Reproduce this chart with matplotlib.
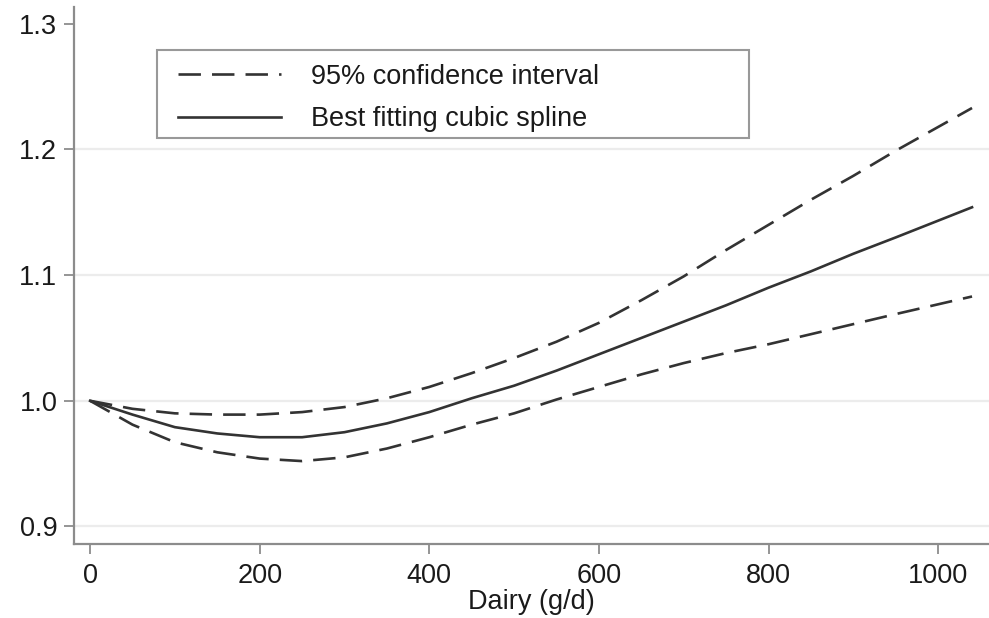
import matplotlib
matplotlib.use("Agg")
import matplotlib.pyplot as plt
from matplotlib.patches import Rectangle

# values
dairy = [0, 50, 100, 150, 200, 250, 300, 350, 400, 450, 500, 550, 600, 650,
         700, 750, 800, 850, 900, 950, 1040]
spline = [1.000, 0.989, 0.979, 0.974, 0.971, 0.971, 0.975, 0.982, 0.991, 1.002,
          1.012, 1.024, 1.037, 1.050, 1.063, 1.076, 1.090, 1.103, 1.117, 1.130, 1.154]
ci_upper = [1.000, 0.9936, 0.990, 0.989, 0.989, 0.991, 0.995, 1.002, 1.011, 1.022,
            1.034, 1.047, 1.062, 1.080, 1.099, 1.120, 1.140, 1.160, 1.179, 1.199, 1.233]
ci_lower = [1.000, 0.981, 0.967, 0.959, 0.954, 0.952, 0.955, 0.962, 0.971, 0.981,
            0.990, 1.001, 1.011, 1.021, 1.030, 1.038, 1.045, 1.053, 1.061, 1.069, 1.083]

x_ticks = [0, 200, 400, 600, 800, 1000]
y_ticks = [0.9, 1.0, 1.1, 1.2, 1.3]
grid_levels = [0.9, 1.0, 1.1, 1.2]

plt.rcParams["font.family"] = ["Liberation Sans", "DejaVu Sans"]
FS = 19.5

line_col = "#333333"
axis_col = "#8c8c8c"
text_col = "#1a1a1a"

fig = plt.figure(figsize=(9.89, 6.18), dpi=100)
ax = fig.add_axes([0.0748, 0.1197, 0.9252, 0.869])

for g in grid_levels:
    ax.axhline(g, color="#ececec", lw=1.6, zorder=0)

dash_kw = dict(color=line_col, lw=1.9, dashes=(8.5, 4.2))
ax.plot(dairy, ci_upper, label="95% confidence interval", **dash_kw)
ax.plot(dairy, ci_lower, **dash_kw)
ax.plot(dairy, spline, color=line_col, lw=1.9, label="Best fitting cubic spline")

ax.set_xlim(-19, 1060)
ax.set_ylim(0.886, 1.3134)
ax.set_xticks(x_ticks)
ax.set_yticks(y_ticks)
ax.set_yticklabels([f"{v:.1f}" for v in y_ticks])
ax.tick_params(axis="both", colors=axis_col, labelcolor=text_col,
               labelsize=FS, length=7, width=1.3)
ax.tick_params(axis="x", pad=7)
ax.tick_params(axis="y", pad=5)
ax.set_xlabel("Dairy (g/d)", fontsize=FS, color=text_col, labelpad=0)

for side in ("top", "right"):
    ax.spines[side].set_visible(False)
for side in ("left", "bottom"):
    ax.spines[side].set_color(axis_col)
    ax.spines[side].set_linewidth(1.6)

# legend box drawn separately so it can be wider than its content
ax.add_patch(Rectangle((0.0907, 0.756), 0.647, 0.164, transform=ax.transAxes,
                       facecolor="white", edgecolor="#999999", lw=1.5, zorder=4))
leg = ax.legend(loc="upper left", bbox_to_anchor=(0.114, 0.894), frameon=False,
                borderaxespad=0, borderpad=0, fontsize=FS, handlelength=3.8,
                handletextpad=1.1, labelspacing=0.6)
leg.set_zorder(5)
for t in leg.get_texts():
    t.set_color(text_col)

fig.savefig("out.png", dpi=100)
plt.close(fig)
